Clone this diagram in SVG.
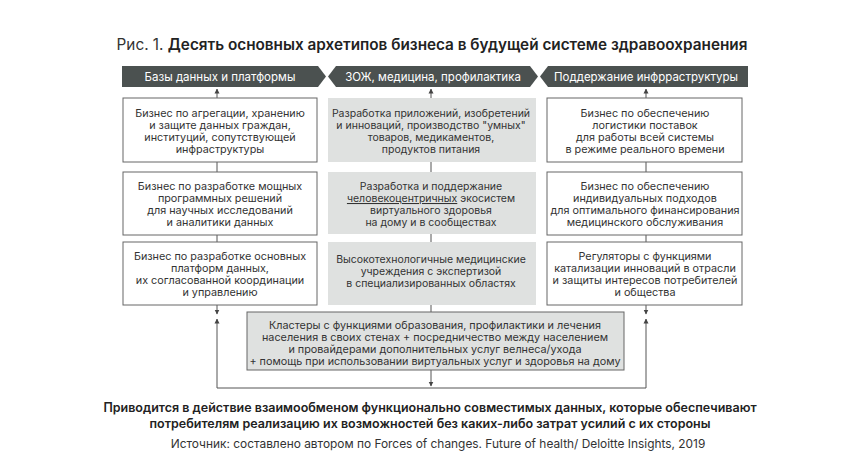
<svg xmlns="http://www.w3.org/2000/svg" width="856" height="468" viewBox="0 0 856 468">
<defs>
<style>
text{font-family:Inter,"Noto Sans","DejaVu Sans",sans-serif;fill:#333;}
.t{font-size:10.8px;text-anchor:middle;}
.m{font-size:10.5px;}
.h{font-size:11.5px;fill:#fff;text-anchor:middle;}
.hd{fill:#4b5150;}
.bx{fill:#fff;stroke:#666;stroke-width:1;}
.gb{fill:#dfe1e0;}
.gbb{fill:#dfe1e0;stroke:#666;stroke-width:1;}
.ln{stroke:#555;stroke-width:1;fill:none;}
.f{font-size:12.5px;font-weight:600;text-anchor:middle;fill:#222;}
</style>
<marker id="ah" viewBox="0 0 10 10" refX="9" refY="5" markerWidth="5" markerHeight="6" orient="auto-start-reverse" markerUnits="userSpaceOnUse">
<path d="M0,0 L10,5 L0,10 z" fill="#444"/>
</marker>
</defs>
<rect width="856" height="468" fill="#fff"/>
<text x="432" y="50" style="font-size:15.3px;text-anchor:middle"><tspan>Рис. 1. </tspan><tspan font-weight="600" fill="#222">Десять основных архетипов бизнеса в будущей системе здравоохранения</tspan></text>

<g id="header1"><polygon class="hd" points="122,66 318,66 326,76.5 318,87 122,87"/><text class="h" x="220" y="80.5">Базы данных и платформы</text></g>
<g id="header2"><polygon class="hd" points="328,76.5 336,66 530,66 538,76.5 530,87 336,87"/><text class="h" x="433" y="80.5">ЗОЖ, медицина, профилактика</text></g>
<g id="header3"><polygon class="hd" points="540,76.5 548,66 748,66 748,87 548,87"/><text class="h" x="646" y="80.5">Поддержание инфрраструктуры</text></g>

<g id="connectors">
<line class="ln" x1="217" y1="98" x2="217" y2="89" marker-end="url(#ah)"/>
<line class="ln" x1="431" y1="98" x2="431" y2="89" marker-end="url(#ah)"/>
<line class="ln" x1="646" y1="98" x2="646" y2="89" marker-end="url(#ah)"/>
<line class="ln" x1="217" y1="162" x2="217" y2="172"/>
<line class="ln" x1="431" y1="162" x2="431" y2="172"/>
<line class="ln" x1="646" y1="162" x2="646" y2="172"/>
<line class="ln" x1="217" y1="235" x2="217" y2="242"/>
<line class="ln" x1="431" y1="234" x2="431" y2="242"/>
<line class="ln" x1="646" y1="235" x2="646" y2="242"/>
<line class="ln" x1="217" y1="305" x2="217" y2="314" marker-end="url(#ah)"/>
<line class="ln" x1="646" y1="305" x2="646" y2="314" marker-end="url(#ah)"/>
<line class="ln" x1="431" y1="305" x2="431" y2="312"/>
<line class="ln" x1="431" y1="370" x2="431" y2="386" marker-end="url(#ah)"/>
<polyline class="ln" points="217,319 217,388 646,388 646,319" marker-start="url(#ah)" marker-end="url(#ah)"/>
</g>

<g id="n1"><rect class="bx" x="123" y="98" width="194" height="64"/>
<text class="t" x="220" y="117">Бизнес по агрегации, хранению</text>
<text class="t" x="220" y="129">и защите данных граждан,</text>
<text class="t" x="220" y="141">институций, сопутствующей</text>
<text class="t" x="220" y="153">инфраструктуры</text></g>
<g id="n2"><rect class="bx" x="123" y="172" width="194" height="63"/>
<text class="t" x="220" y="190">Бизнес по разработке мощных</text>
<text class="t" x="220" y="202">программных решений</text>
<text class="t" x="220" y="214">для научных исследований</text>
<text class="t" x="220" y="226">и аналитики данных</text></g>
<g id="n3"><rect class="bx" x="123" y="242" width="194" height="63"/>
<text class="t" x="220" y="260">Бизнес по разработке основных</text>
<text class="t" x="220" y="272">платформ данных,</text>
<text class="t" x="220" y="284">их согласованной координации</text>
<text class="t" x="220" y="296">и управлению</text></g>

<g id="n4"><rect class="gb" x="328" y="98" width="208" height="64"/>
<text class="t m" x="431" y="117">Разработка приложений, изобретений</text>
<text class="t m" x="431" y="129">и инноваций, производство "умных"</text>
<text class="t m" x="431" y="141">товаров, медикаментов,</text>
<text class="t m" x="431" y="153">продуктов питания</text></g>
<g id="n5"><rect class="gb" x="328" y="172" width="208" height="62"/>
<text class="t m" x="431" y="190">Разработка и поддержание</text>
<text class="t m" x="431" y="202"><tspan text-decoration="underline">человекоцентричных</tspan> экосистем</text>
<text class="t m" x="431" y="214">виртуального здоровья</text>
<text class="t m" x="431" y="226">на дому и в сообществах</text></g>
<g id="n6"><rect class="gb" x="328" y="242" width="208" height="63"/>
<text class="t m" x="431" y="263">Высокотехнологичные медицинские</text>
<text class="t m" x="431" y="275">учреждения с экспертизой</text>
<text class="t m" x="431" y="287">в специализированных областях</text></g>

<g id="n7"><rect class="bx" x="547" y="98" width="195" height="64"/>
<text class="t" x="645" y="117">Бизнес по обеспечению</text>
<text class="t" x="645" y="129">логистики поставок</text>
<text class="t" x="645" y="141">для работы всей системы</text>
<text class="t" x="645" y="153">в режиме реального времени</text></g>
<g id="n8"><rect class="bx" x="547" y="172" width="195" height="63"/>
<text class="t" x="645" y="190">Бизнес по обеспечению</text>
<text class="t" x="645" y="202">индивидуальных подходов</text>
<text class="t" x="645" y="214">для оптимального финансирования</text>
<text class="t" x="645" y="226">медицинского обслуживания</text></g>
<g id="n9"><rect class="bx" x="547" y="242" width="195" height="63"/>
<text class="t" x="645" y="260">Регуляторы с функциями</text>
<text class="t" x="645" y="272">катализации инноваций в отрасли</text>
<text class="t" x="645" y="284">и защиты интересов потребителей</text>
<text class="t" x="645" y="296">и общества</text></g>

<g id="n10"><rect class="gbb" x="247" y="312" width="377" height="58"/>
<text class="t" x="435" y="329">Кластеры с функциями образования, профилактики и лечения</text>
<text class="t" x="435" y="341">населения в своих стенах + посредничество между населением</text>
<text class="t" x="435" y="353">и провайдерами дополнительных услуг велнеса/ухода</text>
<text class="t" x="435" y="365">+ помощь при использовании виртуальных услуг и здоровья на дому</text></g>

<text class="f" x="430" y="412">Приводится в действие взаимообменом функционально совместимых данных, которые обеспечивают</text>
<text class="f" x="430" y="428">потребителям реализацию их возможностей без каких-либо затрат усилий с их стороны</text>
<text x="438" y="448" style="font-size:11.9px;text-anchor:middle">Источник: составлено автором по Forces of changes. Future of health/ Deloitte Insights, 2019</text>
</svg>
